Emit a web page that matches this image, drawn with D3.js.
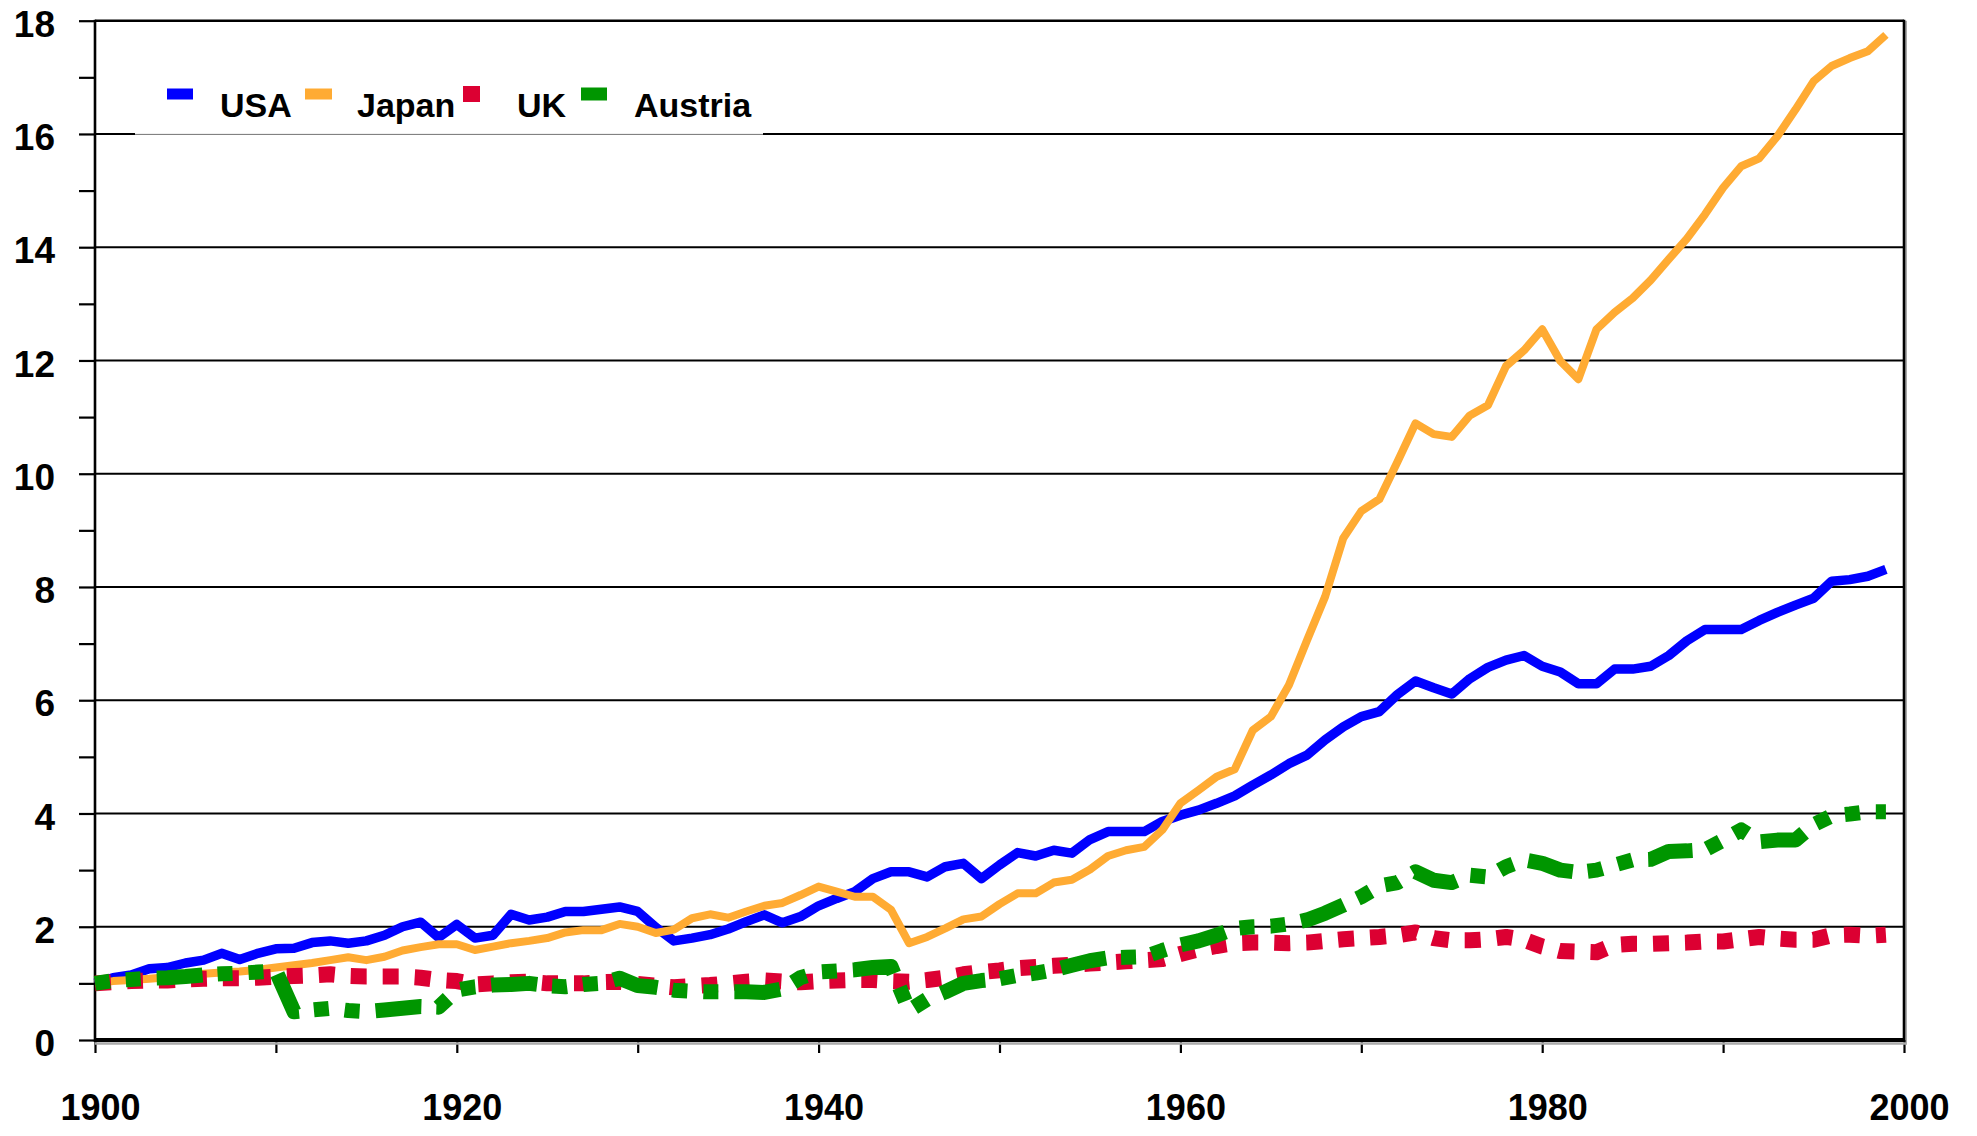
<!DOCTYPE html>
<html>
<head>
<meta charset="utf-8">
<script src="https://cdn.jsdelivr.net/npm/d3@7"></script>
<style>
  body { margin: 0; background: #fff; }
  text { font-family: "Liberation Sans", Arial, sans-serif; font-weight: bold; fill: #000; }
</style>
</head>
<body>
<script>
const years = d3.range(1900, 2000);

const usa = [
  1.00, 1.10, 1.15, 1.26, 1.28, 1.36, 1.41, 1.53, 1.42, 1.53,
  1.61, 1.62, 1.72, 1.75, 1.71, 1.75, 1.85, 2.00, 2.08, 1.81,
  2.04, 1.80, 1.85, 2.22, 2.12, 2.17, 2.27, 2.27, 2.31, 2.35,
  2.27, 1.99, 1.75, 1.80, 1.86, 1.96, 2.09, 2.21, 2.07, 2.18,
  2.37, 2.50, 2.62, 2.85, 2.97, 2.97, 2.88, 3.06, 3.12, 2.85,
  3.09, 3.31, 3.25, 3.35, 3.30, 3.54, 3.68, 3.68, 3.68, 3.86,
  3.97, 4.06, 4.18, 4.31, 4.50, 4.68, 4.88, 5.03, 5.30, 5.53,
  5.71, 5.80, 6.10, 6.34, 6.22, 6.11, 6.38, 6.58, 6.71, 6.79,
  6.60, 6.50, 6.29, 6.29, 6.55, 6.55, 6.60, 6.79, 7.05, 7.25,
  7.25, 7.25, 7.41, 7.55, 7.68, 7.80, 8.10, 8.13, 8.19, 8.31,
];

const japan = [
  1.00, 1.04, 1.06, 1.08, 1.11, 1.14, 1.17, 1.19, 1.21, 1.24,
  1.28, 1.32, 1.36, 1.41, 1.46, 1.41, 1.47, 1.58, 1.64, 1.69,
  1.69, 1.59, 1.65, 1.71, 1.75, 1.80, 1.90, 1.94, 1.94, 2.05,
  2.00, 1.89, 1.95, 2.15, 2.22, 2.16, 2.27, 2.37, 2.42, 2.56,
  2.71, 2.62, 2.53, 2.53, 2.30, 1.71, 1.82, 1.97, 2.13, 2.18,
  2.40, 2.59, 2.59, 2.78, 2.83, 3.01, 3.25, 3.35, 3.41, 3.71,
  4.18, 4.41, 4.65, 4.78, 5.47, 5.71, 6.27, 7.06, 7.83, 8.86,
  9.34, 9.55, 10.21, 10.89, 10.70, 10.65, 11.03, 11.21, 11.90, 12.18,
  12.55, 11.99, 11.67, 12.55, 12.85, 13.10, 13.42, 13.79, 14.15, 14.58,
  15.05, 15.43, 15.57, 15.96, 16.43, 16.93, 17.20, 17.34, 17.46, 17.75,
];

const uk = [
  1.00, 1.02, 1.04, 1.05, 1.05, 1.07, 1.08, 1.09, 1.09, 1.10,
  1.12, 1.13, 1.14, 1.16, 1.13, 1.12, 1.12, 1.12, 1.10, 1.06,
  1.04, 0.98, 1.00, 1.02, 1.03, 1.00, 1.00, 1.00, 1.02, 1.03,
  0.99, 0.96, 0.93, 0.95, 0.97, 1.00, 1.03, 1.05, 1.03, 1.02,
  1.04, 1.05, 1.06, 1.06, 1.04, 1.03, 1.06, 1.10, 1.16, 1.20,
  1.23, 1.27, 1.29, 1.31, 1.33, 1.35, 1.37, 1.39, 1.41, 1.43,
  1.52, 1.60, 1.66, 1.71, 1.72, 1.72, 1.71, 1.72, 1.75, 1.78,
  1.80, 1.82, 1.85, 1.90, 1.80, 1.76, 1.76, 1.78, 1.82, 1.77,
  1.65, 1.57, 1.56, 1.55, 1.68, 1.70, 1.70, 1.71, 1.72, 1.74,
  1.74, 1.78, 1.82, 1.79, 1.77, 1.77, 1.85, 1.86, 1.84, 1.86,
];

const austria = [
  1.00, 1.05, 1.07, 1.09, 1.10, 1.12, 1.15, 1.17, 1.18, 1.20,
  1.22, 0.50, 0.53, 0.56, 0.52, 0.50, 0.53, 0.56, 0.59, 0.58,
  0.88, 0.94, 0.97, 0.98, 1.00, 0.96, 0.94, 0.98, 1.00, 1.09,
  0.96, 0.93, 0.88, 0.86, 0.85, 0.85, 0.85, 0.84, 0.90, 1.10,
  1.20, 1.22, 1.24, 1.28, 1.30, 0.52, 0.72, 0.85, 1.00, 1.05,
  1.08, 1.14, 1.18, 1.24, 1.32, 1.40, 1.45, 1.46, 1.47, 1.58,
  1.68, 1.75, 1.85, 1.97, 2.00, 2.01, 2.05, 2.12, 2.24, 2.38,
  2.53, 2.72, 2.78, 2.97, 2.82, 2.78, 2.91, 2.88, 3.06, 3.18,
  3.12, 3.00, 2.96, 3.00, 3.09, 3.18, 3.19, 3.33, 3.34, 3.36,
  3.53, 3.71, 3.50, 3.53, 3.53, 3.80, 3.96, 3.99, 4.03, 4.03,
];

const seriesNames = ["USA", "Japan", "UK", "Austria"];
const seriesValues = [usa, japan, uk, austria];

const yTicks = d3.range(0, 19);
const xTicks = d3.range(1900, 2001, 10);

// look of each series
const styles = {
  USA: { color: "#0000ff", width: 9.5, dash: null },
  Japan: { color: "#ffab33", width: 8, dash: null },
  UK: { color: "#dc0032", width: 16, dash: "16,16" },
  Austria: { color: "#009600", width: 15, dash: "15,16,15,16,46,15" },
};

const chartWidth = 1977;
const chartHeight = 1136;
const plotLeft = 95;
const plotRight = 1904;
const plotTop = 20.7;
const plotBottom = 1040;

const x = d3.scaleLinear().domain([1900, 2000]).range([plotLeft, plotRight]);
const y = d3.scaleLinear().domain([0, 18]).range([plotBottom, plotTop]);

const svg = d3.select("body")
    .append("svg")
    .attr("width", chartWidth)
    .attr("height", chartHeight)
    .attr("viewBox", [0, 0, chartWidth, chartHeight].join(" "));

svg.append("rect")
    .attr("width", chartWidth)
    .attr("height", chartHeight)
    .attr("fill", "#fff");

// gridlines at even values
svg.append("g")
    .selectAll("line")
    .data(yTicks.filter((d) => d % 2 === 0 && d > 0))
    .enter()
    .append("line")
    .attr("x1", plotLeft)
    .attr("x2", plotRight)
    .attr("y1", (d) => y(d))
    .attr("y2", (d) => y(d))
    .attr("stroke", "#000")
    .attr("stroke-width", (d) => (d === 18 ? 2.6 : 2));

// right border with a light shadow
svg.append("line")
    .attr("x1", plotRight + 2)
    .attr("x2", plotRight + 2)
    .attr("y1", plotTop)
    .attr("y2", plotBottom + 3)
    .attr("stroke", "#aaa")
    .attr("stroke-width", 2);
svg.append("line")
    .attr("x1", plotRight)
    .attr("x2", plotRight)
    .attr("y1", plotTop - 1)
    .attr("y2", plotBottom)
    .attr("stroke", "#000")
    .attr("stroke-width", 2.6);

// y axis
const yAxis = svg.append("g")
    .attr("transform", `translate(${plotLeft},0)`)
    .call(d3.axisLeft(y)
        .tickValues(yTicks)
        .tickSize(16)
        .tickPadding(24)
        .tickFormat((d) => (d % 2 === 0 ? d : "")));
yAxis.select(".domain").remove();
yAxis.selectAll(".tick line").attr("stroke", "#000").attr("stroke-width", 2.2);
yAxis.selectAll(".tick text")
    .attr("dy", "0.42em")
    .style("font-size", "37px");
yAxis.append("line")
    .attr("y1", plotTop - 1)
    .attr("y2", plotBottom + 2)
    .attr("stroke", "#000")
    .attr("stroke-width", 2.6);

// x axis
const xAxis = svg.append("g")
    .attr("transform", `translate(0,${plotBottom})`)
    .call(d3.axisBottom(x)
        .tickValues(xTicks)
        .tickSize(13)
        .tickFormat((d) => ((d - 1900) % 20 === 0 ? d : "")));
xAxis.select(".domain").remove();
xAxis.selectAll(".tick line").attr("stroke", "#000").attr("stroke-width", 2.2);
xAxis.selectAll(".tick text")
    .attr("y", 80)
    .attr("dy", 0)
    .attr("dx", 5)
    .style("font-size", "36px");
xAxis.append("line")
    .attr("x1", plotLeft)
    .attr("x2", plotRight + 3)
    .attr("y1", 3.5)
    .attr("y2", 3.5)
    .attr("stroke", "#aaa")
    .attr("stroke-width", 2.5);
xAxis.append("line")
    .attr("x1", plotLeft - 1)
    .attr("x2", plotRight + 1)
    .attr("y1", 0)
    .attr("y2", 0)
    .attr("stroke", "#000")
    .attr("stroke-width", 4);

// series
const line = d3.line()
    .x((d) => x(d.year))
    .y((d) => y(d.value));

const series = seriesNames.map((name, i) => ({
  name: name,
  points: years.map((year, j) => ({ year: year, value: seriesValues[i][j] })),
}));

svg.append("g")
    .selectAll("path")
    .data(series)
    .enter()
    .append("path")
    .attr("d", (d) => line(d.points))
    .attr("fill", "none")
    .attr("stroke", (d) => styles[d.name].color)
    .attr("stroke-width", (d) => styles[d.name].width)
    .attr("stroke-dasharray", (d) => styles[d.name].dash)
    .attr("stroke-linejoin", "round")
    .attr("stroke-linecap", "butt");

// legend
const legend = svg.append("g");

legend.append("rect")
    .attr("x", 135)
    .attr("y", 46)
    .attr("width", 628)
    .attr("height", y(16) - 46)
    .attr("fill", "#fff");

legend.append("line")
    .attr("x1", 135)
    .attr("x2", 763)
    .attr("y1", y(16) + 0.5)
    .attr("y2", y(16) + 0.5)
    .attr("stroke", "#888")
    .attr("stroke-width", 1);

const swatches = [
  { x: 167, w: 26, h: 11 },
  { x: 305, w: 27, h: 11 },
  { x: 463, w: 17, h: 16 },
  { x: 581, w: 26, h: 13 },
];
const labelX = [220, 357, 517, 634];

const item = legend.selectAll(".item")
    .data(seriesNames)
    .enter()
    .append("g")
    .attr("class", "item");

item.append("rect")
    .attr("x", (d, i) => swatches[i].x)
    .attr("y", (d, i) => 94 - swatches[i].h / 2)
    .attr("width", (d, i) => swatches[i].w)
    .attr("height", (d, i) => swatches[i].h)
    .attr("fill", (d) => styles[d].color);

item.append("text")
    .attr("x", (d, i) => labelX[i])
    .attr("y", 117)
    .style("font-size", "34px")
    .text((d) => d);
</script>
</body>
</html>
